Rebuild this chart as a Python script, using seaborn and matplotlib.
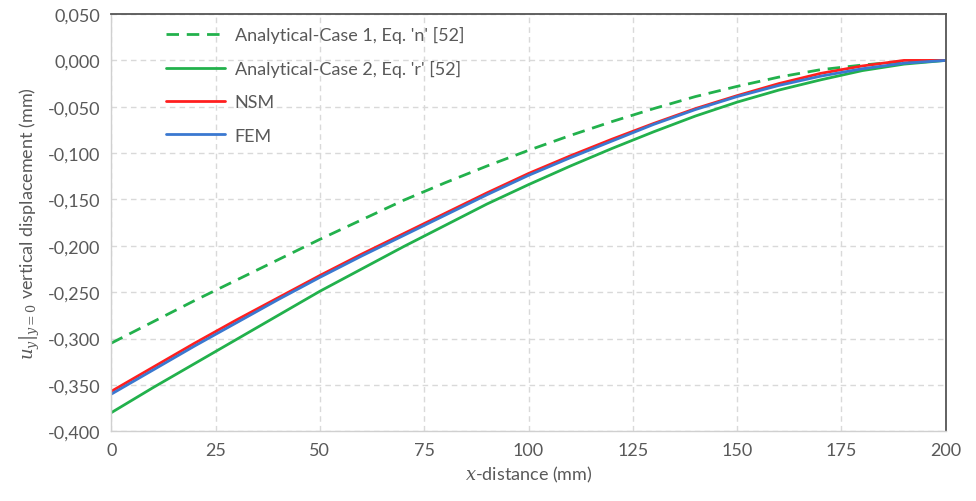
import numpy as np
import pandas as pd
import seaborn as sns
import matplotlib.pyplot as plt
from matplotlib.ticker import FuncFormatter, MultipleLocator

# --------------------------- DATA ---------------------------
x_mm = [0, 10, 20, 30, 40, 50, 60, 70, 80, 90, 100,
        110, 120, 130, 140, 150, 160, 170, 180, 190, 200]

case1 = [-0.305, -0.282, -0.259, -0.237, -0.215, -0.193, -0.172, -0.151, -0.132, -0.114, -0.097,
         -0.081, -0.066, -0.052, -0.039, -0.028, -0.018, -0.010, -0.005, -0.001, 0.000]
case2 = [-0.380, -0.353, -0.327, -0.301, -0.275, -0.249, -0.225, -0.201, -0.178, -0.155, -0.134,
         -0.114, -0.095, -0.077, -0.060, -0.045, -0.032, -0.021, -0.011, -0.004, 0.000]
nsm = [-0.357, -0.331, -0.305, -0.280, -0.256, -0.232, -0.209, -0.187, -0.165, -0.143, -0.122,
       -0.103, -0.085, -0.068, -0.052, -0.038, -0.025, -0.014, -0.006, 0.000, 0.000]
fem = [-0.360, -0.334, -0.308, -0.283, -0.258, -0.234, -0.211, -0.189, -0.167, -0.145, -0.124,
       -0.105, -0.087, -0.069, -0.053, -0.039, -0.027, -0.017, -0.009, -0.003, 0.000]

labels = ["Analytical-Case 1, Eq. 'n' [52]", "Analytical-Case 2, Eq. 'r' [52]", "NSM", "FEM"]
colors = ["#22b14c", "#22b14c", "#ff1f1f", "#3a78d0"]
styles = [(4.5, 2.8), "", "", ""]

# --------------------------- STYLE ---------------------------
sns.set_theme(style="white")
plt.rcParams['font.family'] = ['Lato', 'DejaVu Sans']
plt.rcParams['mathtext.fontset'] = 'dejavuserif'
text_gray = "#595959"

fig, ax = plt.subplots(figsize=(9.76, 5.02), dpi=100)
fig.subplots_adjust(left=0.114, right=0.969, bottom=0.139, top=0.970)

for ys, lab, c, st in zip([case1, case2, nsm, fem], labels, colors, styles):
    df = pd.DataFrame({'x': x_mm, 'y': ys})
    sns.lineplot(data=df, x='x', y='y', ax=ax, color=c, linewidth=2.0, label=lab)
    if st:
        ax.lines[-1].set_dashes(st)

ax.set_xlim(0, 200)
ax.set_ylim(-0.4, 0.05)
ax.xaxis.set_major_locator(MultipleLocator(25))
ax.yaxis.set_major_locator(MultipleLocator(0.05))
ax.yaxis.set_major_formatter(FuncFormatter(lambda v, p: f"{v:.3f}".replace(".", ",").replace("-0,000", "0,000")))

ax.grid(True, color="#d9d9d9", linestyle=(0, (4, 3)), linewidth=1.0)
ax.tick_params(axis='both', colors=text_gray, labelsize=13, length=0, pad=8)

for side in ['left', 'bottom']:
    ax.spines[side].set_color("#d0d0d0")
    ax.spines[side].set_linewidth(1.0)
for side in ['top', 'right']:
    ax.spines[side].set_color("#555555")
    ax.spines[side].set_linewidth(1.3)

ax.set_xlabel("$x$-distance (mm)", color=text_gray, fontsize=13, labelpad=4)
ax.set_ylabel(r"$u_y|_{y=0}$ vertical displacement (mm)", color=text_gray, fontsize=13, labelpad=4)

leg = ax.legend(loc='upper left', bbox_to_anchor=(0.046, 1.01), frameon=False, fontsize=13,
                handlelength=3.3, labelspacing=0.95, handletextpad=0.5)
for t in leg.get_texts():
    t.set_color(text_gray)

plt.savefig("out.png", dpi=100)
